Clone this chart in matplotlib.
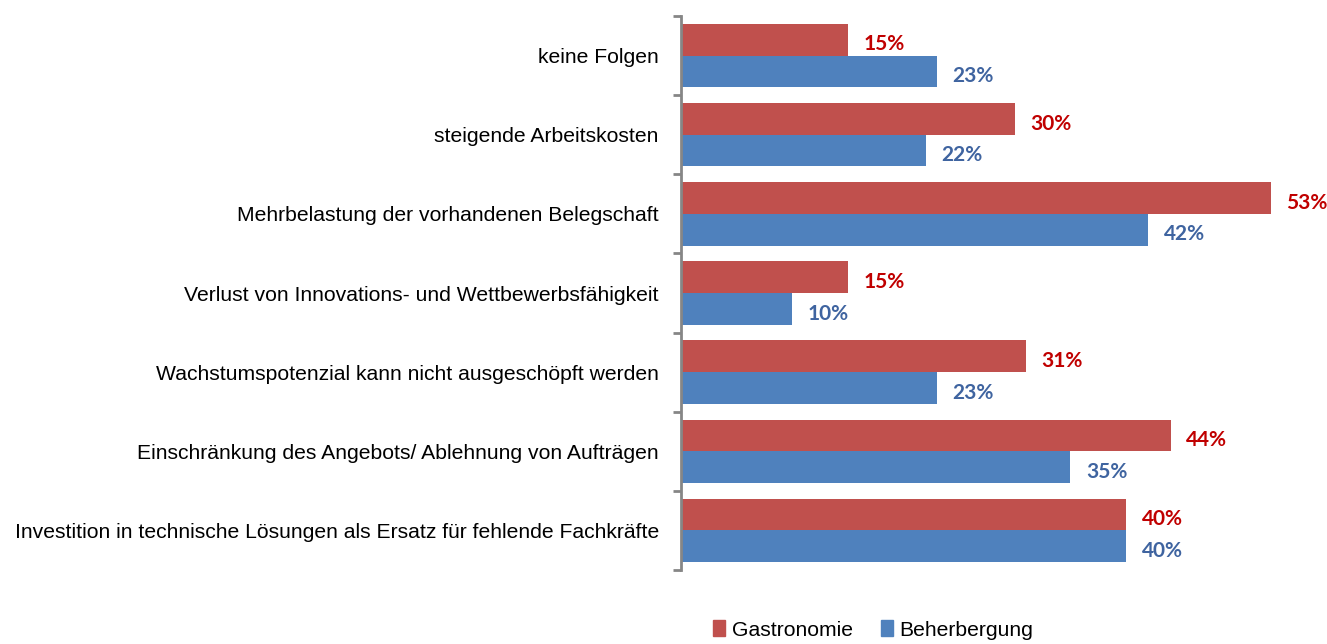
import numpy as np
import matplotlib.pyplot as plt
from matplotlib.patches import Patch

# data
categories = ['keine Folgen',
              'steigende Arbeitskosten',
              'Mehrbelastung der vorhandenen Belegschaft',
              'Verlust von Innovations- und Wettbewerbsfähigkeit',
              'Wachstumspotenzial kann nicht ausgeschöpft werden',
              'Einschränkung des Angebots/ Ablehnung von Aufträgen',
              'Investition in technische Lösungen als Ersatz für fehlende Fachkräfte']
gastronomie = [15, 30, 53, 15, 31, 44, 40]
beherbergung = [23, 22, 42, 10, 23, 35, 40]
series_names = ['Gastronomie', 'Beherbergung']

bar_colors = ['#C0504D', '#4F81BD']
text_colors = ['#C00000', '#3F64A0']
label_font = ['Liberation Sans', 'DejaVu Sans']
value_font = ['Lato', 'DejaVu Sans']

fig = plt.figure(figsize=(13.27, 6.44), dpi=100)
ax = fig.add_axes([681 / 1327, 74 / 644, 646 / 1327, 554 / 644])

n = len(categories)
y = np.arange(n)
h = 0.4
ax.barh(y - h / 2, gastronomie, height=h, color=bar_colors[0])
ax.barh(y + h / 2, beherbergung, height=h, color=bar_colors[1])

for vals, off, col in ((gastronomie, -h / 2, text_colors[0]),
                       (beherbergung, h / 2, text_colors[1])):
    for yi, v in zip(y, vals):
        ax.text(v + 1.4, yi + off + 0.06, '%d%%' % v, va='center', ha='left',
                color=col, fontsize=15, fontweight='bold', family=value_font)

ax.set_xlim(0, 646 / 11.125)
ax.set_ylim(n - 0.5, -0.5)

# ticks on category boundaries, labels in the middle
ax.set_yticks(np.arange(n + 1) - 0.5)
ax.set_yticklabels([])
ax.set_yticks(y, minor=True)
ax.set_yticklabels(categories, minor=True, family=label_font, fontsize=15.2)
ax.tick_params(axis='y', which='major', length=6, width=2, color='#868686')
ax.tick_params(axis='y', which='minor', length=0, pad=16)
ax.set_xticks([])

for s in ('top', 'right', 'bottom'):
    ax.spines[s].set_visible(False)
ax.spines['left'].set_color('#868686')
ax.spines['left'].set_linewidth(2)

handles = [Patch(color=c) for c in bar_colors]
fig.legend(handles, series_names, loc='center', bbox_to_anchor=(873 / 1327, 14 / 644),
           ncol=2, frameon=False, prop={'family': label_font, 'size': 15.2},
           handlelength=0.6, handleheight=0.8, handletextpad=0.3, columnspacing=1.33,
           borderaxespad=0, borderpad=0)

fig.savefig('out.png', dpi=100)
